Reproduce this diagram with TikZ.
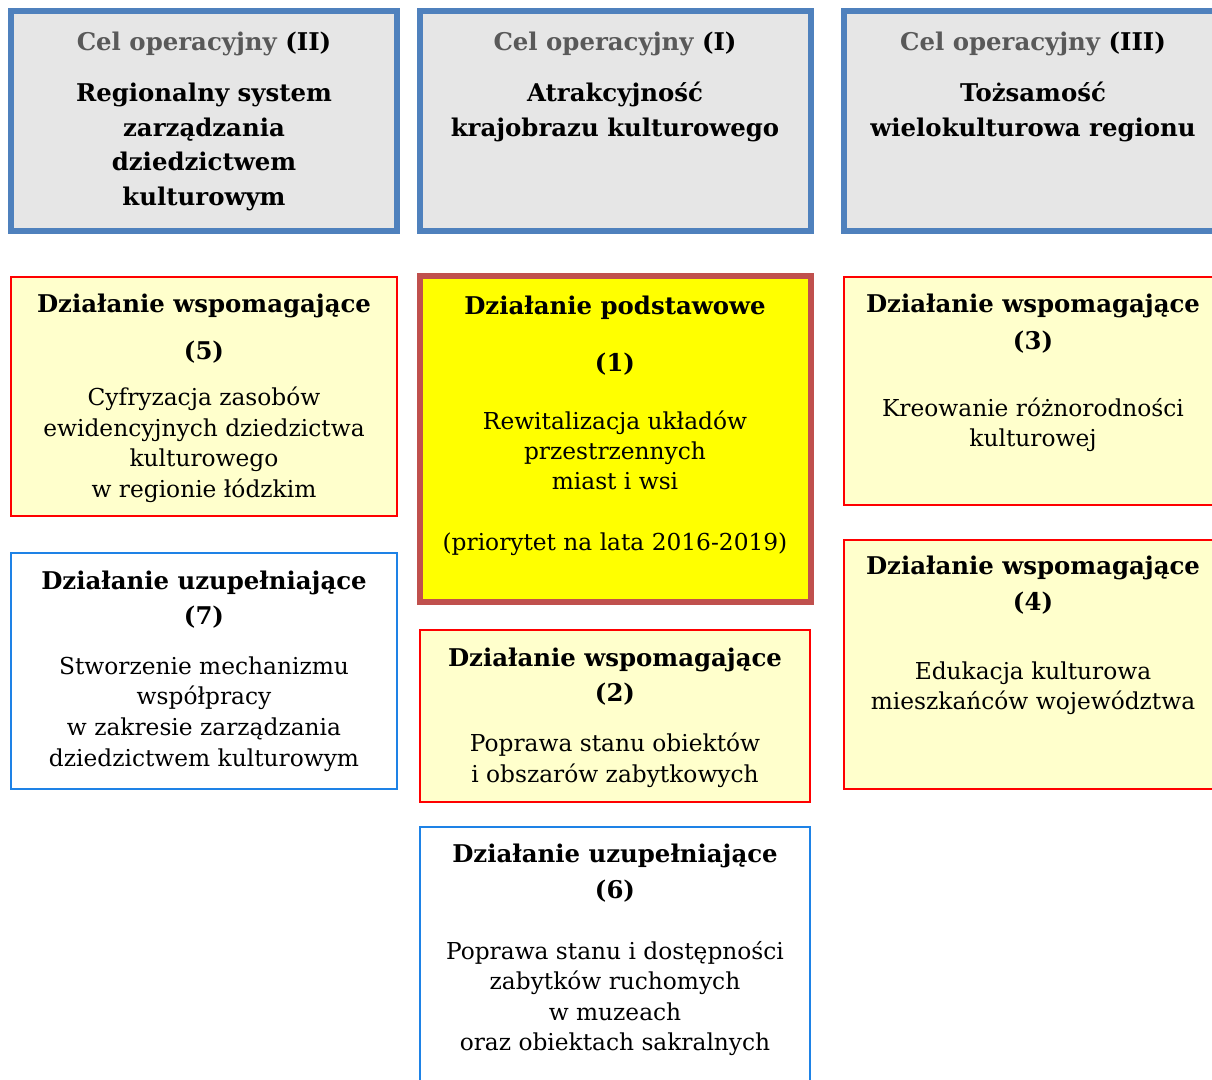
\documentclass[tikz,border=0pt]{standalone}
\usepackage{fontspec}
\setmainfont{DejaVu Serif}
\definecolor{topblue}{HTML}{4F81BD}
\definecolor{topfill}{HTML}{E6E6E6}
\definecolor{titlegrey}{HTML}{595959}
\definecolor{lyellow}{HTML}{FFFFCC}
\definecolor{primred}{HTML}{C0504D}
\definecolor{primyellow}{HTML}{FFFF00}
\definecolor{boxblue}{RGB}{30,130,230}
\begin{document}
\begin{tikzpicture}[x=1pt,y=-1pt,
  bx/.style={rectangle, inner sep=0pt, outer sep=0pt},
  topbox/.style={bx, draw=topblue, fill=topfill, line width=6pt},
  primbox/.style={bx, draw=primred, fill=primyellow, line width=6pt},
  supbox/.style={bx, draw=red, fill=lyellow, line width=2.5pt},
  compbox/.style={bx, draw=boxblue, fill=white, line width=2.5pt},
  txt/.style={anchor=mid, inner sep=0pt, yshift=-6.5pt, font=\fontsize{23.3}{27}\selectfont},
  hd/.style={anchor=mid, inner sep=0pt, yshift=-6.5pt, font=\bfseries\fontsize{24.4}{28}\selectfont},
]
\clip (0,0) rectangle (1212,1079);
\fill[white] (0,0) rectangle (1212,1079);

% top boxes
\node[topbox, minimum width=386pt, minimum height=220pt] (T2) at (204,121) {};
\node[topbox, minimum width=391pt, minimum height=220pt] (T1) at (615.5,121) {};
\node[topbox, minimum width=378pt, minimum height=220pt] (T3) at (1033,121) {};

\node[hd] (T2a) at (204,41) {\textcolor{titlegrey}{Cel operacyjny} (II)};
\node[hd] (T2b) at (204,92) {Regionalny system};
\node[hd] (T2c) at (204,127) {zarządzania};
\node[hd] (T2d) at (204,161) {dziedzictwem};
\node[hd] (T2e) at (204,196) {kulturowym};

\node[hd] (T1a) at (615,41) {\textcolor{titlegrey}{Cel operacyjny} (I)};
\node[hd] (T1b) at (615,92) {Atrakcyjność};
\node[hd] (T1c) at (615,127) {krajobrazu kulturowego};

\node[hd] (T3a) at (1033,41) {\textcolor{titlegrey}{Cel operacyjny} (III)};
\node[hd] (T3b) at (1033,92) {Tożsamość};
\node[hd] (T3c) at (1033,127) {wielokulturowa regionu};

% box 5
\node[supbox, minimum width=386pt, minimum height=239pt] (B5) at (204,396.5) {};
\node[hd] (B5a) at (204,303) {Działanie wspomagające};
\node[hd] (B5b) at (204,350) {(5)};
\node[txt] (B5c) at (204,396) {Cyfryzacja zasobów};
\node[txt] (B5d) at (204,427) {ewidencyjnych dziedzictwa};
\node[txt] (B5e) at (204,457) {kulturowego};
\node[txt] (B5f) at (204,488) {w regionie łódzkim};

% primary box 1
\node[primbox, minimum width=391pt, minimum height=326pt] (B1) at (615.5,439) {};
\node[hd] (B1a) at (615,305) {Działanie podstawowe};
\node[hd] (B1b) at (615,362) {(1)};
\node[txt] (B1c) at (615,420) {Rewitalizacja układów};
\node[txt] (B1d) at (615,450) {przestrzennych};
\node[txt] (B1e) at (615,480) {miast i wsi};
\node[txt] (B1f) at (615,541) {(priorytet na lata 2016-2019)};

% box 3
\node[supbox, minimum width=378pt, minimum height=228pt] (B3) at (1033,391) {};
\node[hd] (B3a) at (1033,303) {Działanie wspomagające};
\node[hd] (B3b) at (1033,340) {(3)};
\node[txt] (B3c) at (1033,407) {Kreowanie różnorodności};
\node[txt] (B3d) at (1033,437) {kulturowej};

% box 7
\node[compbox, minimum width=386pt, minimum height=236pt] (B7) at (204,671) {};
\node[hd] (B7a) at (204,580) {Działanie uzupełniające};
\node[hd] (B7b) at (204,615) {(7)};
\node[txt] (B7c) at (204,665) {Stworzenie mechanizmu};
\node[txt] (B7d) at (204,695) {współpracy};
\node[txt] (B7e) at (204,726) {w zakresie zarządzania};
\node[txt] (B7f) at (204,757) {dziedzictwem kulturowym};

% box 2
\node[supbox, minimum width=390pt, minimum height=172pt] (B2) at (615,716) {};
\node[hd] (B2a) at (615,657) {Działanie wspomagające};
\node[hd] (B2b) at (615,692) {(2)};
\node[txt] (B2c) at (615,742) {Poprawa stanu obiektów};
\node[txt] (B2d) at (615,773) {i obszarów zabytkowych};

% box 4
\node[supbox, minimum width=378pt, minimum height=249pt] (B4) at (1033,664.5) {};
\node[hd] (B4a) at (1033,565) {Działanie wspomagające};
\node[hd] (B4b) at (1033,601) {(4)};
\node[txt] (B4c) at (1033,670) {Edukacja kulturowa};
\node[txt] (B4d) at (1033,700) {mieszkańców województwa};

% box 6
\node[compbox, minimum width=390pt, minimum height=270pt] (B6) at (615,962) {};
\node[hd] (B6a) at (615,853) {Działanie uzupełniające};
\node[hd] (B6b) at (615,889) {(6)};
\node[txt] (B6c) at (615,950) {Poprawa stanu i dostępności};
\node[txt] (B6d) at (615,980) {zabytków ruchomych};
\node[txt] (B6e) at (615,1011) {w muzeach};
\node[txt] (B6f) at (615,1041) {oraz obiektach sakralnych};
\end{tikzpicture}
\end{document}
